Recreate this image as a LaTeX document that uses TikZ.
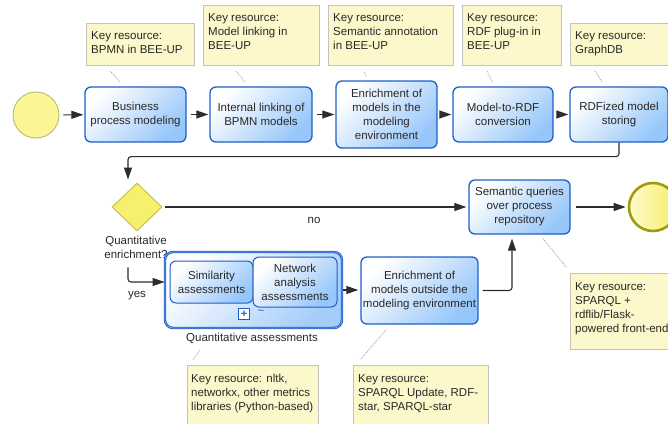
\documentclass[tikz,border=0pt]{standalone}
\usepackage{fontspec}
\setmainfont{Liberation Sans}
\usetikzlibrary{arrows.meta,calc,shapes.geometric}
\definecolor{taskblue}{RGB}{150,198,250}
\definecolor{subblue}{RGB}{165,205,250}
\definecolor{taskborder}{RGB}{30,95,200}
\definecolor{subinner}{RGB}{120,170,235}
\definecolor{annfill}{RGB}{252,248,204}
\definecolor{annborder}{RGB}{195,195,190}
\definecolor{txt}{RGB}{40,40,40}
\definecolor{startfill}{RGB}{250,246,150}
\definecolor{startborder}{RGB}{185,185,110}
\definecolor{endborder}{RGB}{160,155,10}
\definecolor{endlight}{RGB}{252,250,205}
\definecolor{enddark}{RGB}{246,238,100}
\definecolor{gwfill}{RGB}{245,240,110}
\definecolor{gwborder}{RGB}{195,190,70}
\definecolor{flowcol}{RGB}{45,45,45}
\tikzset{
  basefont/.style={font=\fontsize{11.5}{14}\selectfont, text=txt},
  task/.style={basefont, draw=taskborder, line width=1.3pt, rounded corners=6pt,
    top color=white, bottom color=taskblue, shading angle=45, align=center, inner sep=2pt},
  innertask/.style={task, line width=1pt},
  subproc/.style={draw=taskborder, line width=0.9pt, double=subinner, double distance=0.6pt,
    rounded corners=8pt, top color=white, bottom color=subblue, shading angle=45},
  annot/.style={draw=annborder, fill=annfill, line width=0.8pt, anchor=north west, inner sep=0pt},
  annottext/.style={basefont, align=left, anchor=north west, inner sep=0pt},
  startev/.style={circle, draw=startborder, fill=startfill, line width=0.9pt, inner sep=0pt},
  endev/.style={circle, draw=endborder, line width=2.6pt, left color=endlight, right color=enddark, inner sep=0pt},
  gateway/.style={diamond, draw=gwborder, fill=gwfill, line width=0.9pt, inner sep=0pt},
  flow/.style={draw=flowcol, line width=1.1pt, -{Triangle[length=12pt,width=8pt]}},
  assoc/.style={draw=gray!70, line width=0.8pt, dash pattern=on 1pt off 1pt},
  lbl/.style={basefont, align=center, inner sep=0pt}
}
\begin{document}
\begin{tikzpicture}[x=1pt,y=-1pt]
\useasboundingbox (0,0) rectangle (668,423);

% events and gateway
\node[startev, minimum size=46pt] (st) at (36,115) {};
\node[endev, minimum size=48pt] (en) at (653,207) {};
\node[gateway, minimum width=50pt, minimum height=48pt] (gw) at (137,207) {};

% tasks
\node[task, minimum width=101pt, minimum height=55pt] (t1) at (135.5,114.5) {Business\\process modeling};
\node[task, minimum width=102pt, minimum height=55pt] (t2) at (261,114.5) {Internal linking of\\BPMN models};
\node[task, minimum width=101pt, minimum height=67pt] (t3) at (386.5,114.5) {Enrichment of\\models in the\\modeling\\environment};
\node[task, minimum width=100pt, minimum height=55pt] (t4) at (503,114.5) {Model-to-RDF\\conversion};
\node[task, minimum width=98pt, minimum height=55pt] (t5) at (619,114.5) {RDFized model\\storing};
\node[task, minimum width=101pt, minimum height=54pt] (sq) at (519.5,207) {Semantic queries\\over process\\repository};
\node[task, minimum width=117pt, minimum height=67pt] (t6) at (419.5,290.5) {Enrichment of\\models outside the\\modeling environment};

% subprocess
\node[subproc, minimum width=177pt, minimum height=76pt] (sub) at (253.5,290) {};
\node[innertask, minimum width=83pt, minimum height=42pt] (s1) at (211.5,282) {Similarity\\assessments};
\node[innertask, minimum width=84pt, minimum height=50pt] (s2) at (295,282) {Network\\analysis\\assessments};
\node[draw=taskborder, fill=white, line width=1pt, minimum size=11pt, inner sep=0pt,
      font=\bfseries\fontsize{11}{11}\selectfont, text=taskborder] (plus) at (244,314) {+};
\node[lbl, text=taskborder] (tilde) at (261,312) {\textasciitilde};
\node[lbl] (sublbl) at (252,338) {Quantitative assessments};

% labels
\node[lbl] (gwlbl) at (136,247) {Quantitative\\enrichment?};
\node[lbl] (nolbl) at (314,220) {no};
\node[lbl] (yeslbl) at (137,296) {yes};

% annotations
\node[annot, minimum width=108pt, minimum height=42pt] (a1) at (86,23) {};
\node[annottext] (a1t) at ($(a1.north west)+(5,8)$) {Key resource:\\BPMN in BEE-UP};
\node[annot, minimum width=116pt, minimum height=60pt] (a2) at (203,5) {};
\node[annottext] (a2t) at ($(a2.north west)+(5,8)$) {Key resource:\\Model linking in\\BEE-UP};
\node[annot, minimum width=125pt, minimum height=60pt] (a3) at (328,5) {};
\node[annottext] (a3t) at ($(a3.north west)+(5,8)$) {Key resource:\\Semantic annotation\\in BEE-UP};
\node[annot, minimum width=99pt, minimum height=60pt] (a4) at (462,5) {};
\node[annottext] (a4t) at ($(a4.north west)+(5,8)$) {Key resource:\\RDF plug-in in\\BEE-UP};
\node[annot, minimum width=100pt, minimum height=42pt] (a5) at (570,23) {};
\node[annottext] (a5t) at ($(a5.north west)+(5,8)$) {Key resource:\\GraphDB};
\node[annot, minimum width=100pt, minimum height=76pt] (a6) at (570,273) {};
\node[annottext] (a6t) at ($(a6.north west)+(5,9)$) {Key resource:\\SPARQL +\\rdflib/Flask-\\powered front-end};
\node[annot, minimum width=131pt, minimum height=62pt] (a7) at (187,365) {};
\node[annottext] (a7t) at ($(a7.north west)+(4,9)$) {Key resource: nltk,\\networkx, other metrics\\libraries (Python-based)};
\node[annot, minimum width=135pt, minimum height=62pt] (a8) at (353,365) {};
\node[annottext] (a8t) at ($(a8.north west)+(5,9)$) {Key resource:\\SPARQL Update, RDF-\\star, SPARQL-star};

% sequence flows
\draw[flow, shorten <=4pt, shorten >=1pt] (st) -- (t1);
\draw[flow, shorten <=4pt, shorten >=1pt] (t1) -- (t2);
\draw[flow, shorten <=4pt, shorten >=1pt] (t2) -- (t3);
\draw[flow, shorten <=4pt, shorten >=1pt] (t3) -- (t4);
\draw[flow, shorten <=4pt, shorten >=1pt] (t4) -- (t5);
\draw[flow, rounded corners=3pt] (t5.south) -- ++(0,14) -| ([xshift=-9pt,yshift=3pt]gw.north);
\draw[flow, shorten <=3pt, shorten >=2pt] (gw.east) -- (sq.west);
\coordinate (yesstart) at ($(gw.south)+(-9,36)$);
\draw[flow, rounded corners=3pt] (yesstart) |- ([yshift=8pt]sub.west);
\draw[flow, shorten <=1pt, shorten >=2pt] (sub.east) -- (t6.west |- sub.east);
\draw[flow, rounded corners=3pt, shorten <=4pt] (t6.east) -| ([xshift=-7.5pt,yshift=-4pt]sq.south);
\draw[flow, shorten <=5pt, shorten >=2pt] (sq.east) -- (en.west);

% associations
\draw[assoc] ($(a1.south west)+(24,5)$) -- ($(t1.north west)+(36,-4)$);
\draw[assoc] ($(a2.south west)+(33,5)$) -- ($(t2.north west)+(36,-4)$);
\draw[assoc] ($(a3.south west)+(36,6)$) -- ($(t3.north west)+(31,-4)$);
\draw[assoc] ($(a4.south west)+(25,5)$) -- ($(t4.north west)+(40,-4)$);
\draw[assoc] ($(a5.south west)+(25,5)$) -- ($(t5.north west)+(33,-4)$);
\draw[assoc] ($(sq.south)+(23.5,4)$) -- ($(a6.north west)+(-3,-5)$);
\draw[assoc] ($(sub.south west)+(35,22)$) -- ($(a7.north west)+(6,-5)$);
\draw[assoc] ($(t6.south west)+(26,5)$) -- ($(a8.north west)+(7,-5)$);
\end{tikzpicture}
\end{document}
